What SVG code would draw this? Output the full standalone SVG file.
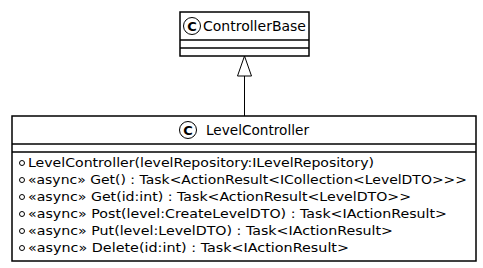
<svg xmlns="http://www.w3.org/2000/svg" width="483" height="268" viewBox="0 0 483 268">
  <style>
    .box { fill: #ffffff; stroke: #000000; stroke-width: 1.5; }
    .sep { stroke: #000000; stroke-width: 1.5; }
    .icon { fill: #ffffff; stroke: #000000; stroke-width: 1; }
    .iconC { font-family: "DejaVu Sans", sans-serif; font-size: 13px; font-weight: bold; fill: #000000; text-anchor: middle; }
    .name { font-family: "DejaVu Sans", sans-serif; font-size: 14px; fill: #000000; }
    .member { font-family: "DejaVu Sans", sans-serif; font-size: 12px; fill: #000000; }
    .vis { fill: none; stroke: #000000; stroke-width: 1; }
    .edge { fill: none; stroke: #000000; stroke-width: 1; }
    .head { fill: #ffffff; stroke: #000000; stroke-width: 1; }
  </style>
  <rect width="483" height="268" fill="#ffffff"/>

  <g id="ControllerBase">
    <rect class="box" x="180" y="12" width="129" height="44"/>
    <line class="sep" x1="180" y1="40" x2="309" y2="40"/>
    <line class="sep" x1="180" y1="48" x2="309" y2="48"/>
    <circle class="icon" cx="192" cy="26" r="8.5"/>
    <text class="iconC" x="192" y="30.5">C</text>
    <text class="name" x="203" y="31" textLength="103" lengthAdjust="spacingAndGlyphs">ControllerBase</text>
  </g>

  <g id="LevelController">
    <rect class="box" x="12" y="116" width="464" height="145"/>
    <line class="sep" x1="12" y1="144" x2="476" y2="144"/>
    <line class="sep" x1="12" y1="152" x2="476" y2="152"/>
    <circle class="icon" cx="188" cy="130" r="8.5"/>
    <text class="iconC" x="188" y="134.5">C</text>
    <text class="name" x="206" y="135" textLength="103" lengthAdjust="spacingAndGlyphs">LevelController</text>
    <circle class="vis" cx="22" cy="163" r="2.5"/>
    <circle class="vis" cx="22" cy="180" r="2.5"/>
    <circle class="vis" cx="22" cy="197" r="2.5"/>
    <circle class="vis" cx="22" cy="214" r="2.5"/>
    <circle class="vis" cx="22" cy="231" r="2.5"/>
    <circle class="vis" cx="22" cy="248" r="2.5"/>
    <text class="member" x="28" y="167" textLength="346" lengthAdjust="spacingAndGlyphs">LevelController(levelRepository:ILevelRepository)</text>
    <text class="member" x="28" y="184" textLength="439" lengthAdjust="spacingAndGlyphs">«async» Get() : Task&lt;ActionResult&lt;ICollection&lt;LevelDTO&gt;&gt;&gt;</text>
    <text class="member" x="28" y="201" textLength="383" lengthAdjust="spacingAndGlyphs">«async» Get(id:int) : Task&lt;ActionResult&lt;LevelDTO&gt;&gt;</text>
    <text class="member" x="28" y="218" textLength="419" lengthAdjust="spacingAndGlyphs">«async» Post(level:CreateLevelDTO) : Task&lt;IActionResult&gt;</text>
    <text class="member" x="28" y="235" textLength="365" lengthAdjust="spacingAndGlyphs">«async» Put(level:LevelDTO) : Task&lt;IActionResult&gt;</text>
    <text class="member" x="28" y="252" textLength="321" lengthAdjust="spacingAndGlyphs">«async» Delete(id:int) : Task&lt;IActionResult&gt;</text>
  </g>

  <g id="connectors">
    <line class="edge" x1="244.5" y1="76" x2="244.5" y2="116"/>
    <polygon class="head" points="244.5,56 237.5,76 251.5,76"/>
  </g>
</svg>
